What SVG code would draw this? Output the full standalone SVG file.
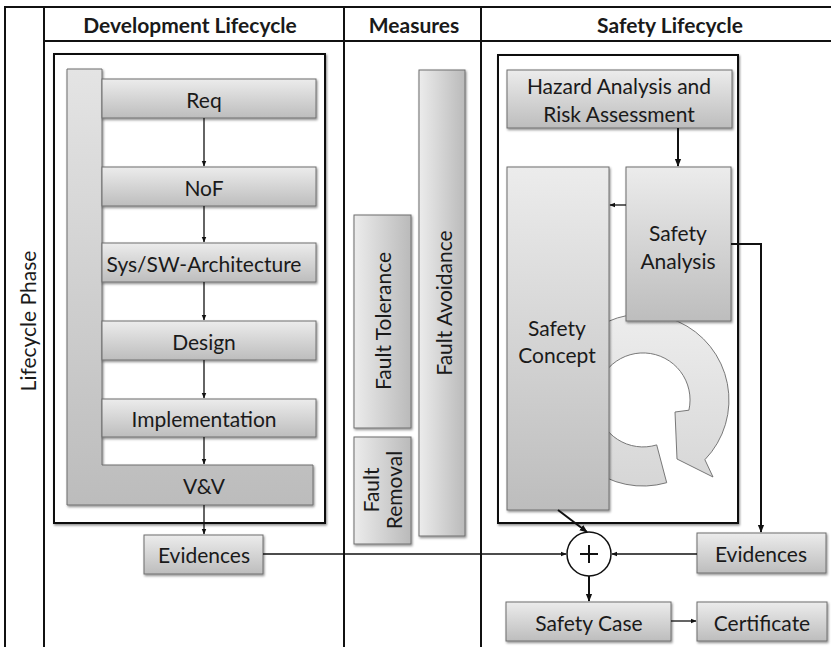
<svg xmlns="http://www.w3.org/2000/svg" width="831" height="647" viewBox="0 0 831 647">
  <defs>
    <linearGradient id="gV" x1="0" y1="0" x2="0" y2="1">
      <stop offset="0" stop-color="#ececec"/>
      <stop offset="1" stop-color="#bdbdbd"/>
    </linearGradient>
    <linearGradient id="gL" x1="0" y1="0" x2="0" y2="1">
      <stop offset="0" stop-color="#e4e4e4"/>
      <stop offset="1" stop-color="#bcbcbc"/>
    </linearGradient>
    <linearGradient id="gH" x1="0" y1="0" x2="1" y2="0">
      <stop offset="0" stop-color="#ececec"/>
      <stop offset="1" stop-color="#bababa"/>
    </linearGradient>
    <linearGradient id="gRing" x1="0" y1="0" x2="0" y2="1">
      <stop offset="0" stop-color="#ededed"/>
      <stop offset="1" stop-color="#d6d6d6"/>
    </linearGradient>
    <filter id="shadow" x="-10%" y="-10%" width="130%" height="130%">
      <feDropShadow dx="1" dy="1.5" stdDeviation="0.8" flood-color="#000" flood-opacity="0.45"/>
    </filter>
    <marker id="arr" viewBox="0 0 10 10" refX="9" refY="5" markerWidth="6" markerHeight="6" orient="auto" markerUnits="userSpaceOnUse">
      <path d="M0,1 L10,5 L0,9 Z" fill="#111"/>
    </marker>
    <marker id="arrB" viewBox="0 0 10 10" refX="9" refY="5" markerWidth="8" markerHeight="8" orient="auto" markerUnits="userSpaceOnUse">
      <path d="M0,1 L10,5 L0,9 Z" fill="#111"/>
    </marker>
  </defs>
  <style>
    text { font-family: Lato, "Open Sans", "Liberation Sans", sans-serif; fill: #1a1a1a; font-size: 21px; text-anchor: middle; dominant-baseline: central; }
    .hdr { font-size: 21px; font-weight: bold; }
    .frame { stroke: #111; stroke-width: 2; fill: none; }
    .panel { stroke: #111; stroke-width: 2; fill: #fff; }
    .box { stroke: #6e6e6e; stroke-width: 1; filter: url(#shadow); }
    .v { fill: url(#gV); }
    .h { fill: url(#gH); }
    .conn { stroke: #111; stroke-width: 1.3; fill: none; }
    .thick { stroke-width: 2; }
  </style>

  <rect x="0" y="0" width="831" height="647" fill="#fff"/>

  <!-- table grid -->
  <g id="grid">
    <line class="frame" x1="5" y1="7" x2="831" y2="7"/>
    <line class="frame" x1="44" y1="41" x2="831" y2="41"/>
    <line class="frame" x1="5" y1="6" x2="5" y2="647"/>
    <line class="frame" x1="44" y1="7" x2="44" y2="647"/>
    <line class="frame" x1="344" y1="7" x2="344" y2="647"/>
    <line class="frame" x1="481" y1="7" x2="481" y2="647"/>
    <text class="hdr" x="190" y="24">Development Lifecycle</text>
    <text class="hdr" x="414" y="24">Measures</text>
    <text class="hdr" x="670" y="24">Safety Lifecycle</text>
    <text transform="translate(27,321) rotate(-90)">Lifecycle Phase</text>
  </g>

  <!-- development lifecycle -->
  <g id="dev-panel">
    <rect class="panel" x="54" y="54" width="271" height="469" filter="url(#shadow)"/>
  </g>
  <g id="vv">
    <path class="box" d="M67,69 H102 V465 H313 V505 H67 Z" fill="url(#gL)"/>
    <text x="204" y="485">V&amp;V</text>
  </g>
  <g id="req">
    <rect class="box v" x="102" y="79" width="214" height="39"/>
    <text x="204" y="99">Req</text>
  </g>
  <g id="nof">
    <rect class="box v" x="102" y="167" width="214" height="39"/>
    <text x="204" y="187">NoF</text>
  </g>
  <g id="arch">
    <rect class="box v" x="102" y="243" width="214" height="39"/>
    <text x="204" y="263">Sys/SW-Architecture</text>
  </g>
  <g id="design">
    <rect class="box v" x="102" y="321" width="214" height="39"/>
    <text x="204" y="341">Design</text>
  </g>
  <g id="impl">
    <rect class="box v" x="102" y="399" width="214" height="38"/>
    <text x="204" y="418">Implementation</text>
  </g>
  <g id="evidences-dev">
    <rect class="box v" x="144" y="535" width="119" height="39"/>
    <text x="204" y="554">Evidences</text>
  </g>

  <!-- measures -->
  <g id="fault-avoidance">
    <rect class="box h" x="419" y="70" width="46" height="466"/>
    <text transform="translate(443,303) rotate(-90)">Fault Avoidance</text>
  </g>
  <g id="fault-tolerance">
    <rect class="box h" x="354" y="215" width="57" height="213"/>
    <text transform="translate(382,321) rotate(-90)">Fault Tolerance</text>
  </g>
  <g id="fault-removal">
    <rect class="box h" x="354" y="437" width="57" height="107"/>
    <text transform="translate(370,490) rotate(-90)">Fault</text>
    <text transform="translate(393,490) rotate(-90)">Removal</text>
  </g>

  <!-- safety lifecycle -->
  <g id="safety-panel">
    <rect class="panel" x="498" y="55" width="240" height="468" filter="url(#shadow)"/>
  </g>
  <g id="cycle">
    <path d="M666.7,482.7 A86,86 0 1 1 704.9,459.7 L713,477 L677,459 L675,412 L688.9,410.2 A47,47 0 1 0 656.7,444.9 Z" fill="url(#gRing)" stroke="#6a6a6a" stroke-width="0.9"/>
  </g>
  <g id="hara">
    <rect class="box v" x="507" y="70" width="225" height="58"/>
    <text x="619" y="85">Hazard Analysis and</text>
    <text x="619" y="113">Risk Assessment</text>
  </g>
  <g id="safety-concept">
    <rect class="box v" x="507" y="167" width="102" height="343"/>
    <text x="557" y="327">Safety</text>
    <text x="557" y="354">Concept</text>
  </g>
  <g id="safety-analysis">
    <rect class="box v" x="626" y="167" width="105" height="154"/>
    <text x="678" y="232">Safety</text>
    <text x="678" y="260">Analysis</text>
  </g>
  <g id="combine">
    <circle cx="589" cy="554" r="22" fill="#fff" stroke="#111" stroke-width="1.5"/>
    <path d="M580,554 H598 M589,545 V563" stroke="#111" stroke-width="2"/>
  </g>
  <g id="evidences-safety">
    <rect class="box v" x="697" y="533" width="129" height="40"/>
    <text x="761" y="553">Evidences</text>
  </g>
  <g id="safety-case">
    <rect class="box v" x="506" y="602" width="165" height="39"/>
    <text x="589" y="622">Safety Case</text>
  </g>
  <g id="certificate">
    <rect class="box v" x="697" y="602" width="130" height="39"/>
    <text x="762" y="622">Certificate</text>
  </g>

  <!-- connectors -->
  <g id="connectors">
    <line class="conn" x1="204" y1="118" x2="204" y2="166" marker-end="url(#arr)"/>
    <line class="conn" x1="204" y1="206" x2="204" y2="242" marker-end="url(#arr)"/>
    <line class="conn" x1="204" y1="282" x2="204" y2="320" marker-end="url(#arr)"/>
    <line class="conn" x1="204" y1="360" x2="204" y2="398" marker-end="url(#arr)"/>
    <line class="conn" x1="204" y1="437" x2="204" y2="464" marker-end="url(#arr)"/>
    <line class="conn" x1="204" y1="505" x2="204" y2="534" marker-end="url(#arr)"/>
    <line class="conn" x1="263" y1="554" x2="566" y2="554" marker-end="url(#arr)"/>
    <line class="conn thick" x1="678" y1="128" x2="678" y2="166" marker-end="url(#arrB)"/>
    <line class="conn" x1="626" y1="205" x2="610" y2="205" marker-end="url(#arr)"/>
    <polyline class="conn thick" points="731,244 761,244 761,532" marker-end="url(#arrB)"/>
    <line class="conn" x1="697" y1="554" x2="612" y2="554" marker-end="url(#arr)"/>
    <line class="conn thick" x1="558" y1="510" x2="587" y2="532" marker-end="url(#arrB)"/>
    <line class="conn thick" x1="589" y1="576" x2="589" y2="601" marker-end="url(#arrB)"/>
    <line class="conn" x1="671" y1="621" x2="696" y2="621" marker-end="url(#arr)"/>
  </g>
</svg>
